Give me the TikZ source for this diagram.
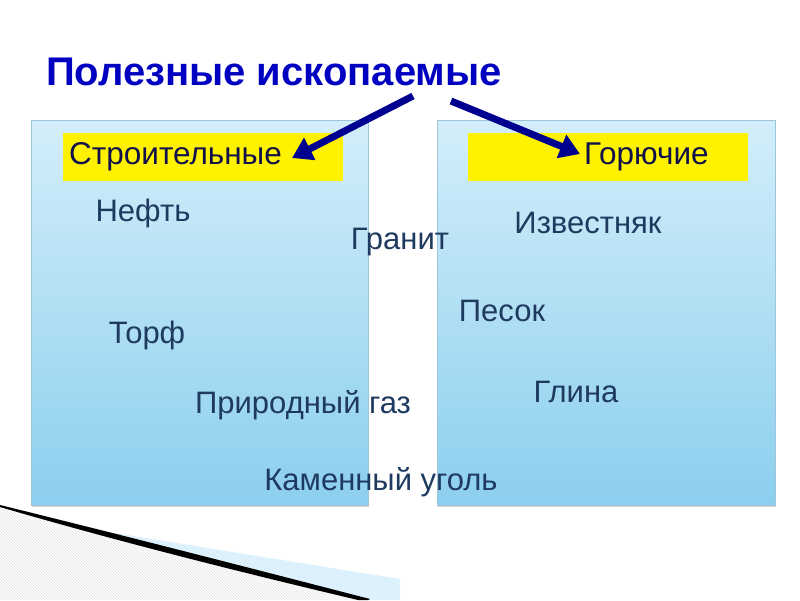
\documentclass[tikz,border=0pt]{standalone}
\usepackage{fontspec}
\setmainfont{Liberation Sans}
\usetikzlibrary{shadows,patterns,arrows.meta}
\definecolor{titleblue}{HTML}{0000C0}
\definecolor{wordc}{HTML}{1F3A5F}
\definecolor{hdrc}{HTML}{10104A}
\definecolor{arrowc}{HTML}{000090}
\definecolor{ptop}{HTML}{D3EEFA}
\definecolor{pbot}{HTML}{8CCFEE}
\definecolor{pedge}{HTML}{9CC6DC}
\begin{document}
\begin{tikzpicture}[x=1pt,y=-1pt,
  panel/.style={draw=pedge,line width=1pt,top color=ptop,bottom color=pbot,
     drop shadow={shadow xshift=1pt,shadow yshift=-2pt,opacity=0.35}},
  ybox/.style={fill=yellow,draw=none},
  word/.style={font=\fontsize{31}{36}\selectfont,text=wordc,inner sep=0pt},
  hdr/.style={font=\fontsize{31.5}{36}\selectfont,text=hdrc,inner sep=0pt},
  pointer/.style={draw=arrowc,line width=7pt,-{Triangle[length=20pt,width=24pt]}}]
\useasboundingbox (0,0) rectangle (800,600);
% bottom-left decoration
\fill[pattern=north west lines,pattern color=black!12] (0,507) .. controls (130,540) and (250,572) .. (360,600) -- (0,600) -- cycle;
\fill[ptop!80!white] (90,529) -- (400,579) -- (400,600) -- (368,600) .. controls (250,570) and (160,547) .. (90,529) -- cycle;
\fill[black] (0,505) .. controls (130,537) and (250,568) .. (370,599) -- (368,600) -- (358,600) .. controls (240,572) and (120,542) .. (0,507) -- cycle;
% panels
\node[panel,minimum width=337pt,minimum height=385pt,inner sep=0pt] (lp) at (199.5,312.5) {};
\node[panel,minimum width=338pt,minimum height=385pt,inner sep=0pt] (rp) at (606,312.5) {};
\node[ybox,minimum width=280pt,minimum height=48pt] (lb) at (203,157) {};
\node[ybox,minimum width=280pt,minimum height=48pt] (rb) at (608,157) {};
\node[hdr,anchor=west] (lh) at (69,157) {Строительные};
\node[hdr,anchor=west] (rh) at (584,157) {Горючие};
% title
\node[font=\bfseries\fontsize{40}{46}\selectfont,text=titleblue,inner sep=0pt] (title) at (274,72) {Полезные ископаемые};
\coordinate (a1) at (413,96);
\coordinate (a2) at (451,101);
\draw[pointer] (a1) -- (292,158);
\draw[pointer] (a2) -- (580,154);
% words
\node[word] (w1) at (143,213) {Нефть};
\node[word] (w2) at (400,242) {Гранит};
\node[word] (w3) at (588,223) {Известняк};
\node[word] (w4) at (502,311) {Песок};
\node[word] (w5) at (147,335) {Торф};
\node[word] (w6) at (576,392) {Глина};
\node[word] (w7) at (303,405) {Природный газ};
\node[word] (w8) at (381,482) {Каменный уголь};
\end{tikzpicture}
\end{document}
